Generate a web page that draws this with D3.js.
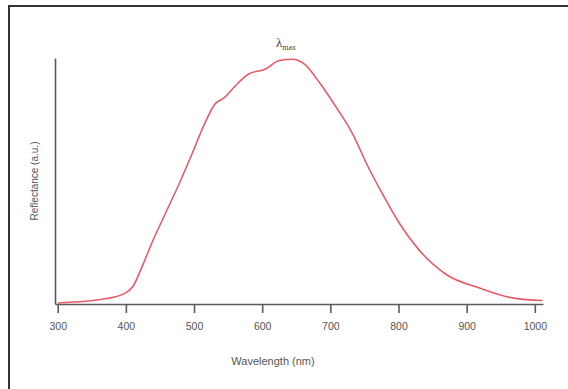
<!DOCTYPE html>
<html>
<head>
<meta charset="utf-8">
<script src="https://cdn.jsdelivr.net/npm/d3@7"></script>
<style>
	body { margin: 0; background: #fff; }
	svg { display: block; }
	.axis path, .axis line { stroke: #5a5a5a; stroke-width: 1.6; }
	.axis text { fill: #555; font-family: "Liberation Sans", Arial, sans-serif; font-size: 10.5px; }
	.label { fill: #555; font-family: "Liberation Sans", Arial, sans-serif; }
</style>
</head>
<body>
<script>

// Wavelength (nm) of the traced points
var wavelength = [300, 340, 372, 396, 410, 425, 440, 460, 480, 500, 515, 530, 545, 560, 580, 605, 625, 645, 662, 684, 705, 733, 755, 778, 802, 830, 870, 920, 965, 1011];

// Reflectance (a.u.) at each wavelength
var reflectance = [0.004, 0.011, 0.022, 0.04, 0.07, 0.16, 0.26, 0.38, 0.50, 0.63, 0.73, 0.81, 0.84, 0.885, 0.935, 0.955, 0.99, 0.995, 0.975, 0.90, 0.815, 0.69, 0.56, 0.44, 0.325, 0.22, 0.12, 0.064, 0.026, 0.014];

// x tick labels
var xTicks = [300, 400, 500, 600, 700, 800, 900, 1000];


const width = 568;
const height = 389;

var svg = d3.select('body')
	.append('svg')
	.attr('width', width)
	.attr('height', height);

// page frame (cropped figure, top and left edges only)
svg.append('path')
	.attr('d', `M9,${height} L9,6 L${width},6`)
	.attr('fill', 'none')
	.attr('stroke', '#333')
	.attr('stroke-width', 2);

var xScale = d3.scaleLinear().domain([296, 1012]).range([55, 543]);
var yScale = d3.scaleLinear().domain([0, 1]).range([304, 58]);

// x-axis
var xAxis = d3.axisBottom(xScale)
	.tickValues(xTicks)
	.tickFormat(d3.format('d'))
	.tickSize(9)
	.tickSizeOuter(0)
	.tickPadding(10);
svg.append('g')
	.classed('axis', true)
	.attr('transform', `translate(0,${yScale(0)})`)
	.call(xAxis);

// y-axis (no ticks)
svg.append('g')
	.classed('axis', true)
	.attr('transform', `translate(${xScale(296)},0)`)
	.call(d3.axisLeft(yScale).tickValues([]).tickSizeOuter(0));

var points = wavelength.map((w, i) => ({ w: w, r: reflectance[i] }));

var line = d3.line()
	.x(d => xScale(d.w))
	.y(d => yScale(d.r))
	.curve(d3.curveMonotoneX);

svg.append('path')
	.datum(points)
	.attr('d', line)
	.attr('fill', 'none')
	.attr('stroke', '#e55c68')
	.attr('stroke-width', 1.6);

// axis titles
svg.append('text')
	.classed('label', true)
	.attr('x', 273)
	.attr('y', 365)
	.attr('text-anchor', 'middle')
	.style('font-size', '11px')
	.text('Wavelength (nm)');

svg.append('text')
	.classed('label', true)
	.attr('transform', 'translate(38,181) rotate(-90)')
	.attr('text-anchor', 'middle')
	.style('font-size', '10px')
	.text('Reflectance (a.u.)');

// peak annotation
var peak = svg.append('text')
	.attr('x', 286)
	.attr('y', 47)
	.attr('text-anchor', 'middle')
	.style('font-family', '"Liberation Serif", serif')
	.style('fill', '#444');
peak.append('tspan').style('font-size', '13px').text('λ');
peak.append('tspan').attr('dy', 3).style('font-size', '8px').text('max');

</script>
</body>
</html>
